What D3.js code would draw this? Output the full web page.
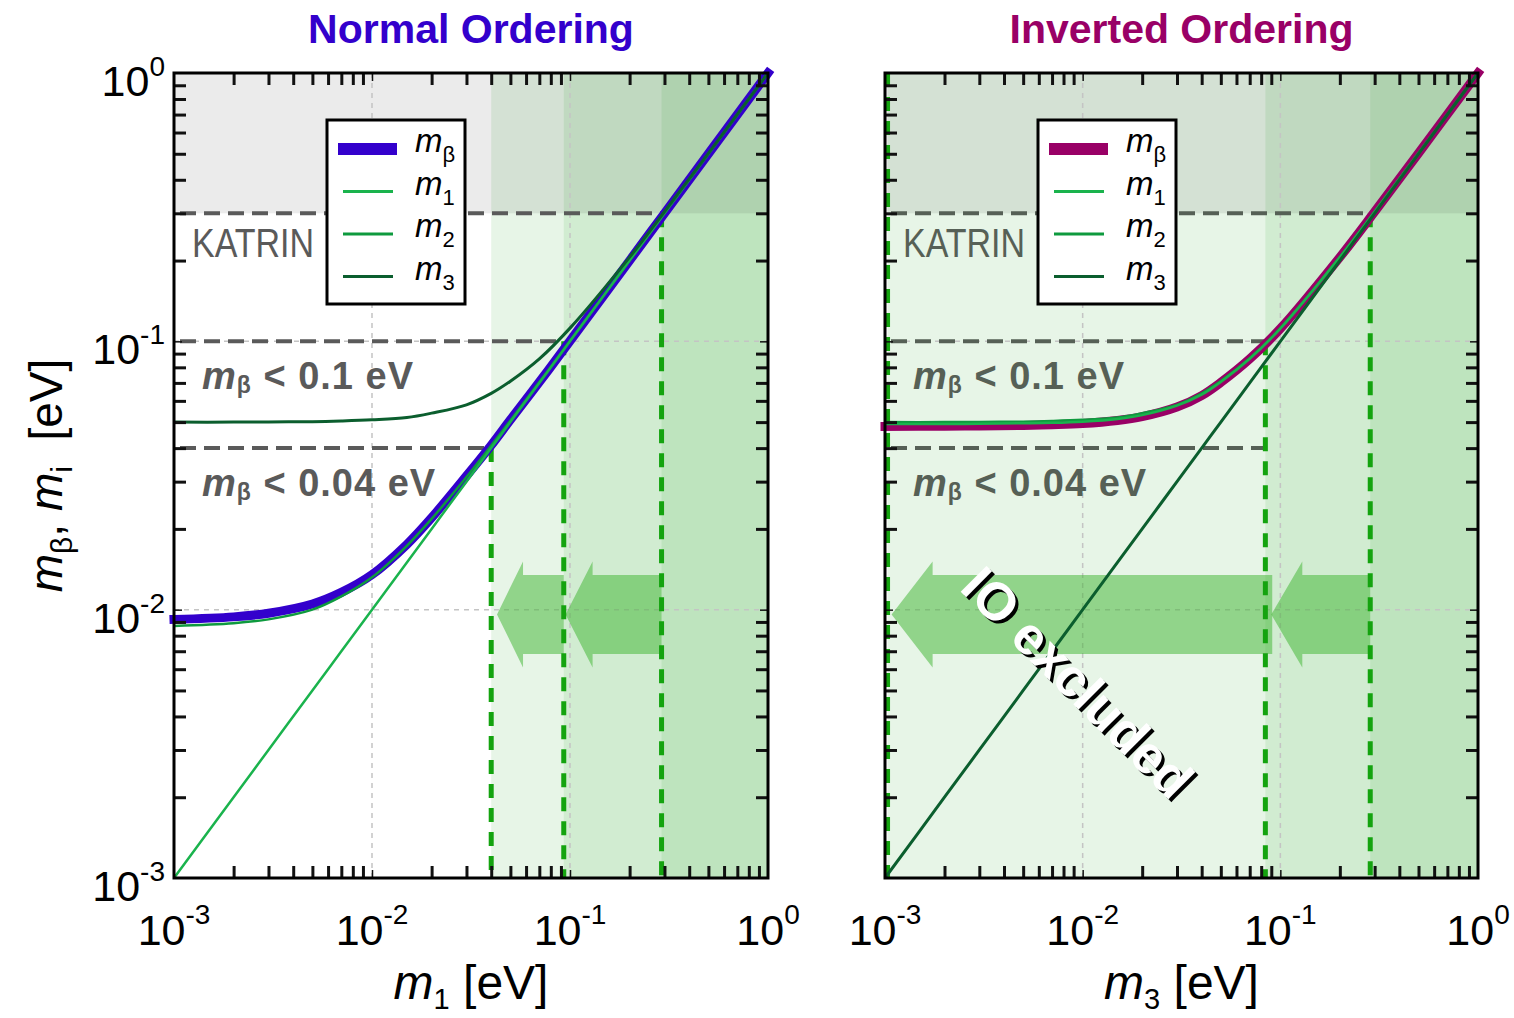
<!DOCTYPE html>
<html>
<head>
<meta charset="utf-8">
<script src="https://cdn.jsdelivr.net/npm/d3@7"></script>
<style>
  body { margin: 0; background: #fff; }
  svg { display: block; }
  text { font-family: "Liberation Sans", Arial, sans-serif; }
</style>
</head>
<body>
<svg id="chart" width="1514" height="1018"></svg>
<script>
// lightest mass (eV): m1 for normal ordering, m3 for inverted ordering
const m_lightest = [0.001, 0.002, 0.003, 0.005, 0.007, 0.01, 0.015, 0.02, 0.03, 0.04, 0.05, 0.07, 0.1, 0.2, 0.3, 0.5, 1];

// normal ordering, values
const no_mbeta = [0.0092, 0.0094, 0.0097, 0.0105, 0.0116, 0.0135, 0.0175, 0.022, 0.0315, 0.041, 0.051, 0.0705, 0.1003, 0.2, 0.3, 0.5, 1];
const no_m1    = [0.001, 0.002, 0.003, 0.005, 0.007, 0.01, 0.015, 0.02, 0.03, 0.04, 0.05, 0.07, 0.1, 0.2, 0.3, 0.5, 1];
const no_m2    = [0.0087, 0.0089, 0.0092, 0.0100, 0.0112, 0.0132, 0.0173, 0.0218, 0.0312, 0.0409, 0.0507, 0.0705, 0.1004, 0.2, 0.3, 0.5, 1];
const no_m3    = [0.050, 0.050, 0.0501, 0.0502, 0.0505, 0.051, 0.052, 0.054, 0.058, 0.064, 0.071, 0.086, 0.112, 0.206, 0.304, 0.502, 1];

// inverted ordering
const io_mbeta = [0.0482, 0.0483, 0.0484, 0.0486, 0.0489, 0.0494, 0.0507, 0.0524, 0.0569, 0.0628, 0.0703, 0.086, 0.1115, 0.2058, 0.3038, 0.5022, 1];
const io_m1    = [0.0492, 0.0492, 0.0493, 0.0495, 0.0497, 0.0502, 0.0514, 0.0531, 0.0576, 0.0633, 0.0706, 0.0861, 0.1116, 0.206, 0.304, 0.5024, 1];
const io_m2    = [0.0500, 0.0500, 0.0501, 0.0502, 0.0505, 0.051, 0.052, 0.054, 0.058, 0.064, 0.0711, 0.0865, 0.112, 0.206, 0.304, 0.502, 1];
const io_m3    = [0.001, 0.002, 0.003, 0.005, 0.007, 0.01, 0.015, 0.02, 0.03, 0.04, 0.05, 0.07, 0.1, 0.2, 0.3, 0.5, 1];

// m_beta sensitivities and where each curve crosses them
const mbeta_limits = [0.3, 0.1, 0.04];
const no_cross = [0.29, 0.093, 0.04];
const io_cross = [0.285, 0.084, 0.00103];
const io_hline_end = [0.285, 0.084, 0.084];
const io_vline_top = [0.3, 0.1, 1];

// arrows: [start, tip]
const arrow_level = 0.0096;
const no_arrows = [[0.29, 0.095], [0.093, 0.0428]];
const io_arrows = [[0.285, 0.090], [0.091, 0.00108]];

const decades = [0.001, 0.01, 0.1, 1];
const decade_exp = ['-3', '-2', '-1', '0'];
const legend_subs = ['\u03b2', '1', '2', '3'];

const Y_TOP = 73, Y_BOT = 878;
const GREEN1 = '#1ab34d', GREEN2 = '#0e9a3e', GREEN3 = '#0b5e2e';

const svg = d3.select('#chart');
const y = d3.scaleLog().domain([1e-3, 1]).range([Y_BOT, Y_TOP]);
const minor = decades.slice(0, 3).flatMap(d => d3.range(2, 10).map(k => k * d));

function drawPanel(p) {
    const x = d3.scaleLog().domain([1e-3, 1]).range([p.left, p.right]);
    const g = svg.append('g');

    // shaded exclusion bands
    g.selectAll('.band')
        .data(p.cross)
        .enter()
        .append('rect')
        .attr('x', d => x(d))
        .attr('y', Y_TOP)
        .attr('width', d => p.right - x(d))
        .attr('height', Y_BOT - Y_TOP)
        .attr('fill', 'rgb(40,160,40)')
        .attr('fill-opacity', 0.11);

    g.append('rect')
        .attr('x', p.left)
        .attr('y', Y_TOP)
        .attr('width', p.right - p.left)
        .attr('height', y(mbeta_limits[0]) - Y_TOP)
        .attr('fill', '#000')
        .attr('fill-opacity', 0.08);

    // dotted grid
    g.selectAll('.gx')
        .data([0.01, 0.1])
        .enter()
        .append('line')
        .attr('x1', d => x(d)).attr('x2', d => x(d))
        .attr('y1', Y_TOP).attr('y2', Y_BOT)
        .attr('stroke', '#c4c4c4').attr('stroke-width', 1.5).attr('stroke-dasharray', '5,5');
    g.selectAll('.gy')
        .data([0.1, 0.01])
        .enter()
        .append('line')
        .attr('x1', p.left).attr('x2', p.right)
        .attr('y1', d => y(d)).attr('y2', d => y(d))
        .attr('stroke', '#c4c4c4').attr('stroke-width', 1.5).attr('stroke-dasharray', '5,5');

    // arrows
    g.selectAll('.arrow')
        .data(p.arrows)
        .enter()
        .append('path')
        .attr('d', (d, i) => {
            const x0 = x(d[0]), xt = x(d[1]), xh = xt + p.heads[i], yc = y(arrow_level);
            return `M${x0},${yc - 39.5}L${xh},${yc - 39.5}L${xh},${yc - 53}L${xt},${yc}` +
                `L${xh},${yc + 53}L${xh},${yc + 39.5}L${x0},${yc + 39.5}Z`;
        })
        .attr('fill', 'rgb(60,180,46)')
        .attr('fill-opacity', 0.5);

    // limit lines
    g.selectAll('.hl')
        .data(mbeta_limits)
        .enter()
        .append('line')
        .attr('x1', p.left + 6)
        .attr('x2', (d, i) => x(p.hEnd[i]))
        .attr('y1', d => y(d)).attr('y2', d => y(d))
        .attr('stroke', p.grey).attr('stroke-width', 4).attr('stroke-dasharray', '16,8');
    g.selectAll('.vl')
        .data(p.cross)
        .enter()
        .append('line')
        .attr('x1', d => x(d)).attr('x2', d => x(d))
        .attr('y1', (d, i) => y(p.vTop[i])).attr('y2', Y_BOT)
        .attr('stroke', '#14a30f').attr('stroke-width', 5).attr('stroke-dasharray', '14,10');

    // curves
    const line = d3.line()
        .x((d, i) => x(m_lightest[i]))
        .y(d => y(d))
        .curve(d3.curveCatmullRom.alpha(0.5));
    p.curves.forEach(c => {
        g.append('path')
            .attr('d', line(c.values))
            .attr('fill', 'none')
            .attr('stroke', c.color)
            .attr('stroke-width', c.width)
            .attr('stroke-linecap', c.width > 5 ? 'square' : 'butt');
    });

    // limit labels
    const kat = g.append('g').attr('transform', `translate(${p.left + 18},${y(0.3) + 44}) scale(0.85,1)`);
    kat.append('text').attr('font-size', 40).attr('fill', p.grey).text('KATRIN');
    [0.1, 0.04].forEach(v => {
        const t = g.append('text')
            .attr('x', p.left + 28)
            .attr('y', y(v) + 48)
            .attr('font-family', '"DejaVu Sans", sans-serif')
            .attr('font-weight', 'bold')
            .attr('font-size', 38)
            .attr('letter-spacing', 1)
            .attr('fill', p.grey);
        t.append('tspan').attr('font-style', 'italic').text('m');
        t.append('tspan').attr('font-size', 23).attr('dy', 4).text('\u03b2');
        t.append('tspan').attr('dy', -4).text(`\u00a0<\u00a0${v}\u00a0eV`);
    });

    // legend
    const lg = g.append('g').attr('transform', `translate(${p.left + 153},120)`);
    lg.append('rect')
        .attr('width', 138).attr('height', 184)
        .attr('fill', '#fff').attr('stroke', '#000').attr('stroke-width', 3);
    p.curves.slice().sort((a, b) => a.order - b.order).forEach((c, i) => {
        const ry = 29 + i * 42.5;
        lg.append('line')
            .attr('x1', c.width > 5 ? 11 : 16).attr('x2', c.width > 5 ? 70 : 66)
            .attr('y1', ry).attr('y2', ry)
            .attr('stroke', c.color).attr('stroke-width', c.width > 5 ? 12 : 3);
        const t = lg.append('text').attr('x', 88).attr('y', ry + 3).attr('font-size', 33);
        t.append('tspan').attr('font-style', 'italic').text('m');
        t.append('tspan').attr('font-size', 22).attr('dy', 10).text(legend_subs[c.order]);
    });

    // ticks on all four sides: minor then major
    const sides = [
        [d3.axisBottom, `translate(0,${Y_BOT})`, x],
        [d3.axisTop, `translate(0,${Y_TOP})`, x],
        [d3.axisLeft, `translate(${p.left},0)`, y],
        [d3.axisRight, `translate(${p.right},0)`, y]
    ];
    sides.forEach(([axisFn, tr, sc]) => {
        g.append('g').attr('transform', tr)
            .call(axisFn(sc).tickValues(minor).tickSize(-12).tickFormat(''))
            .call(s => s.select('.domain').remove())
            .selectAll('line').attr('stroke', '#111').attr('stroke-width', 3);
        g.append('g').attr('transform', tr)
            .call(axisFn(sc).tickValues(decades.slice(1, 3)).tickSize(-8).tickFormat(''))
            .call(s => s.select('.domain').remove())
            .selectAll('line').attr('stroke', '#111').attr('stroke-width', 1.5);
    });

    g.append('rect')
        .attr('x', p.left).attr('y', Y_TOP)
        .attr('width', p.right - p.left).attr('height', Y_BOT - Y_TOP)
        .attr('fill', 'none').attr('stroke', '#000').attr('stroke-width', 3);

    // x tick labels
    decades.forEach((d, i) => {
        const t = g.append('text')
            .attr('x', x(d)).attr('y', 945)
            .attr('text-anchor', 'middle')
            .attr('font-size', 43);
        t.append('tspan').text('10');
        t.append('tspan').attr('font-size', 28).attr('dy', -21).text(decade_exp[i]);
    });

    // x title
    const xt = g.append('text')
        .attr('x', (p.left + p.right) / 2)
        .attr('y', 999)
        .attr('text-anchor', 'middle')
        .attr('font-size', 48);
    xt.append('tspan').attr('font-style', 'italic').text('m');
    xt.append('tspan').attr('font-size', 29).attr('dy', 10).text(p.xSub);
    xt.append('tspan').attr('dy', -10).text('\u00a0[eV]');

    // title
    svg.append('text')
        .attr('x', (p.left + p.right) / 2)
        .attr('y', 43)
        .attr('text-anchor', 'middle')
        .attr('font-size', 41)
        .attr('font-weight', 'bold')
        .attr('fill', p.titleColor)
        .text(p.title);
}

drawPanel({
    left: 174, right: 768,
    title: 'Normal Ordering', titleColor: '#3300cc', xSub: '1', grey: '#5a5a5a',
    cross: no_cross, hEnd: no_cross, vTop: mbeta_limits,
    arrows: no_arrows, heads: [27, 26],
    curves: [
        {values: no_mbeta, color: '#3300cc', width: 9, order: 0},
        {values: no_m2, color: GREEN2, width: 2.5, order: 2},
        {values: no_m1, color: GREEN1, width: 2.5, order: 1},
        {values: no_m3, color: GREEN3, width: 3, order: 3}
    ]
});

drawPanel({
    left: 885, right: 1478,
    title: 'Inverted Ordering', titleColor: '#990066', xSub: '3', grey: '#566056',
    cross: io_cross, hEnd: io_hline_end, vTop: io_vline_top,
    arrows: io_arrows, heads: [31, 41],
    curves: [
        {values: io_mbeta, color: '#990066', width: 9, order: 0},
        {values: io_m2, color: GREEN2, width: 2.5, order: 2},
        {values: io_m1, color: GREEN1, width: 2.5, order: 1},
        {values: io_m3, color: GREEN3, width: 3, order: 3}
    ]
});

// y tick labels (left panel only)
decades.forEach((d, i) => {
    const t = svg.append('text')
        .attr('x', 165).attr('y', y(d) + 23)
        .attr('text-anchor', 'end')
        .attr('font-size', 43);
    t.append('tspan').text('10');
    t.append('tspan').attr('font-size', 28).attr('dy', -20).text(decade_exp[i]);
});

// y title
const yt = svg.append('text')
    .attr('transform', `translate(62,${(Y_TOP + Y_BOT) / 2}) rotate(-90)`)
    .attr('text-anchor', 'middle')
    .attr('font-size', 46);
yt.append('tspan').attr('font-style', 'italic').text('m');
yt.append('tspan').attr('font-size', 30).attr('dy', 10).text('\u03b2');
yt.append('tspan').attr('dy', -10).text(', ');
yt.append('tspan').attr('font-style', 'italic').text('m');
yt.append('tspan').attr('font-size', 30).attr('dy', 10).text('i');
yt.append('tspan').attr('dy', -10).text('\u00a0\u00a0[eV]');

// "IO excluded" stamp
[['#000', 3, 3], ['#fff', 0, 0]].forEach(([col, dx, dy]) => {
    svg.append('text')
        .attr('transform', `translate(${1078 + dx},${682 + dy}) rotate(45)`)
        .attr('y', 19)
        .attr('text-anchor', 'middle')
        .attr('font-family', '"DejaVu Sans", sans-serif')
        .attr('font-weight', 'bold')
        .attr('font-size', 53)
        .attr('fill', col)
        .text('IO excluded');
});
</script>
</body>
</html>
